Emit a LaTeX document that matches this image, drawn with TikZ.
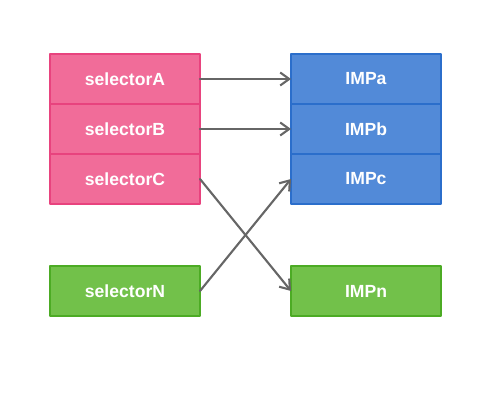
\documentclass[tikz,border=0pt]{standalone}
\usepackage{fontspec}
\setmainfont{Liberation Sans}
\usetikzlibrary{arrows.meta,positioning}
\definecolor{SelPink}{HTML}{F16C99}
\definecolor{SelPinkLine}{HTML}{E8437E}
\definecolor{ImpBlue}{HTML}{528AD8}
\definecolor{ImpBlueLine}{HTML}{2B6ECB}
\definecolor{NGreen}{HTML}{72C14A}
\definecolor{NGreenLine}{HTML}{4CAB24}
\definecolor{LinkGray}{HTML}{666666}

\begin{document}
\begin{tikzpicture}[line cap=round,line join=round,
  cell/.style={draw,line width=1.1pt,minimum width=3cm,minimum height=1cm,
    outer sep=0pt,text=white,font=\fontsize{10}{12}\selectfont\bfseries},
  sel/.style={cell,fill=SelPink,draw=SelPinkLine},
  imp/.style={cell,fill=ImpBlue,draw=ImpBlueLine},
  last/.style={cell,fill=NGreen,draw=NGreenLine},
  link/.style={LinkGray,line width=1.2pt,-{Straight Barb[length=1.8mm,width=2.6mm]}}]
  \useasboundingbox (0,0) rectangle (9.66,-8.06);
  \node[sel] (selA) at (2.5,-1.58) {selectorA};
  \node[sel,below=0pt of selA] (selB) {selectorB};
  \node[sel,below=0pt of selB] (selC) {selectorC};
  \node[last,below=1.24cm of selC] (selN) {selectorN};
  \node[imp] (impA) at (7.32,-1.58) {IMPa};
  \node[imp,below=0pt of impA] (impB) {IMPb};
  \node[imp,below=0pt of impB] (impC) {IMPc};
  \node[last,below=1.24cm of impC] (impN) {IMPn};
  \draw[link] (selA.east) -- (impA.west);
  \draw[link] (selB.east) -- (impB.west);
  \draw[link] (selC.east) -- (impN.west);
  \draw[link] (selN.east) -- (impC.west);
\end{tikzpicture}
\end{document}
